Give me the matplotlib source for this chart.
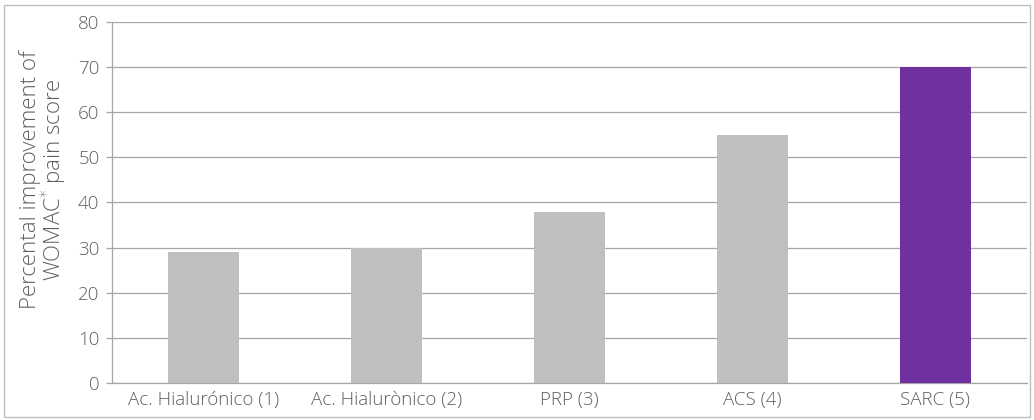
import matplotlib.pyplot as plt
from matplotlib.patches import Rectangle

categories = ["Ac. Hialurónico (1)", "Ac. Hialurònico (2)", "PRP (3)", "ACS (4)", "SARC (5)"]
improvement = [29, 30, 38, 55, 70]
bar_colors = ["#bfbfbf", "#bfbfbf", "#bfbfbf", "#bfbfbf", "#7030a0"]
yticks = [0, 10, 20, 30, 40, 50, 60, 70, 80]

plt.rcParams['font.family'] = ['Open Sans', 'DejaVu Sans']
plt.rcParams['font.weight'] = 'light'
text_color = "#5f5f5f"
line_color = "#a6a6a6"

fig = plt.figure(figsize=(10.34, 4.2), dpi=100)
ax = fig.add_axes([112 / 1034, 1 - 383 / 420, (1027 - 112) / 1034, (383 - 22) / 420])

x = range(len(categories))
ax.bar(x, improvement, width=0.39, color=bar_colors, zorder=3)

ax.set_xlim(-0.5, 4.5)
ax.set_ylim(0, 80)
ax.set_yticks(yticks)
ax.set_xticks(list(x))
ax.set_xticklabels(categories)
ax.yaxis.grid(True, color=line_color, linewidth=0.9, zorder=0)
ax.tick_params(axis='y', length=4, color=line_color, width=0.9, labelsize=13.5,
               labelcolor=text_color, pad=5)
ax.tick_params(axis='x', length=0, labelsize=13.5, labelcolor=text_color, pad=6)
for side in ("top", "right"):
    ax.spines[side].set_visible(False)
for side in ("left", "bottom"):
    ax.spines[side].set_color(line_color)
    ax.spines[side].set_linewidth(0.9)

# two-line y axis title, placed by hand in figure coordinates
fig.text(44 / 1034, 1 - 180 / 420, "Percental improvement of\nWOMAC$^{*}$ pain score",
         rotation=90, ha='center', va='center', fontsize=16,
         color=text_color, linespacing=0.9)

# thin frame around the whole figure
fig.patches.append(Rectangle((4 / 1034, 3 / 420), 1026 / 1034, 412 / 420,
                             transform=fig.transFigure, fill=False,
                             edgecolor="#bfbfbf", linewidth=1))

fig.savefig("out.png", dpi=100)
